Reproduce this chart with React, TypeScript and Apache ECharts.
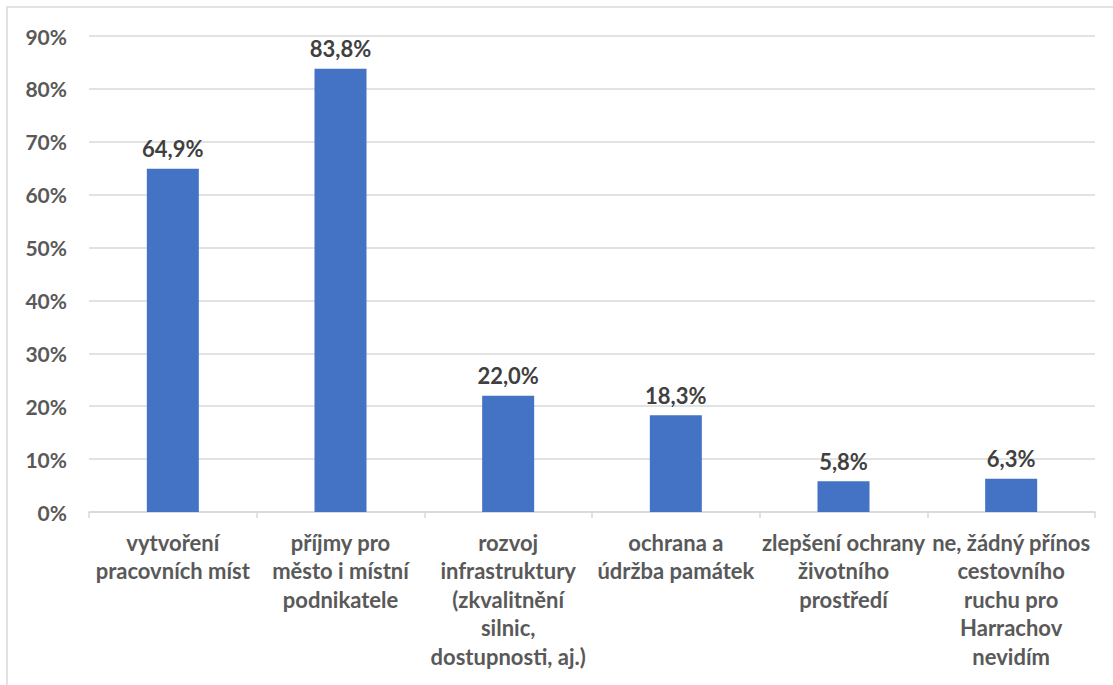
import React, { useEffect, useRef } from "react";
import * as echarts from "echarts";

const categories = [
  "vytvoření\npracovních míst",
  "příjmy pro\nměsto i místní\npodnikatele",
  "rozvoj\ninfrastruktury\n(zkvalitnění\nsilnic,\ndostupnosti, aj.)",
  "ochrana a\núdržba památek",
  "zlepšení ochrany\nživotního\nprostředí",
  "ne, žádný přínos\ncestovního\nruchu pro\nHarrachov\nnevidím",
];
const values = [64.9, 83.8, 22.0, 18.3, 5.8, 6.3];
const yTicks = { min: 0, max: 90, interval: 10 };

const FONT = "Lato, 'Open Sans', sans-serif";

export default function App() {
  const ref = useRef<HTMLDivElement>(null);
  useEffect(() => {
    if (!ref.current) return;
    const chart = echarts.init(ref.current, null, { renderer: "svg" });
    chart.setOption({
      animation: false,
      grid: { left: 89, right: 18, top: 36, bottom: 173, containLabel: false },
      graphic: [
        {
          type: "rect",
          shape: { x: 7, y: 7, width: 1120, height: 700 },
          style: { fill: "none", stroke: "#d9d9d9", lineWidth: 1.5 },
          silent: true,
        },
      ],
      xAxis: {
        type: "category",
        data: categories,
        axisLine: { show: true, lineStyle: { color: "#d9d9d9", width: 1.5 } },
        axisTick: { show: true, length: 6, lineStyle: { color: "#d9d9d9", width: 1.5 } },
        axisLabel: {
          interval: 0,
          color: "#595959",
          fontFamily: FONT,
          fontWeight: "bold",
          fontSize: 22,
          lineHeight: 28.5,
          margin: 16,
        },
      },
      yAxis: {
        type: "value",
        min: yTicks.min,
        max: yTicks.max,
        interval: yTicks.interval,
        axisLine: { show: false },
        axisTick: { show: false },
        splitLine: { lineStyle: { color: "#d9d9d9", width: 1.5 } },
        axisLabel: {
          formatter: (v: number) => `${v}%`,
          color: "#595959",
          fontFamily: FONT,
          fontWeight: "bold",
          fontSize: 21,
          margin: 22,
        },
      },
      series: [
        {
          type: "bar",
          data: values,
          barWidth: 52,
          itemStyle: { color: "#4472c4" },
          label: {
            show: true,
            position: "top",
            distance: 9,
            formatter: (p: any) => `${p.value.toFixed(1).replace(".", ",")}%`,
            color: "#404040",
            fontFamily: FONT,
            fontWeight: "bold",
            fontSize: 22,
          },
        },
      ],
    });
    return () => chart.dispose();
  }, []);
  return <div ref={ref} style={{ width: 1113, height: 685, position: "absolute", left: 0, top: 0 }} />;
}
